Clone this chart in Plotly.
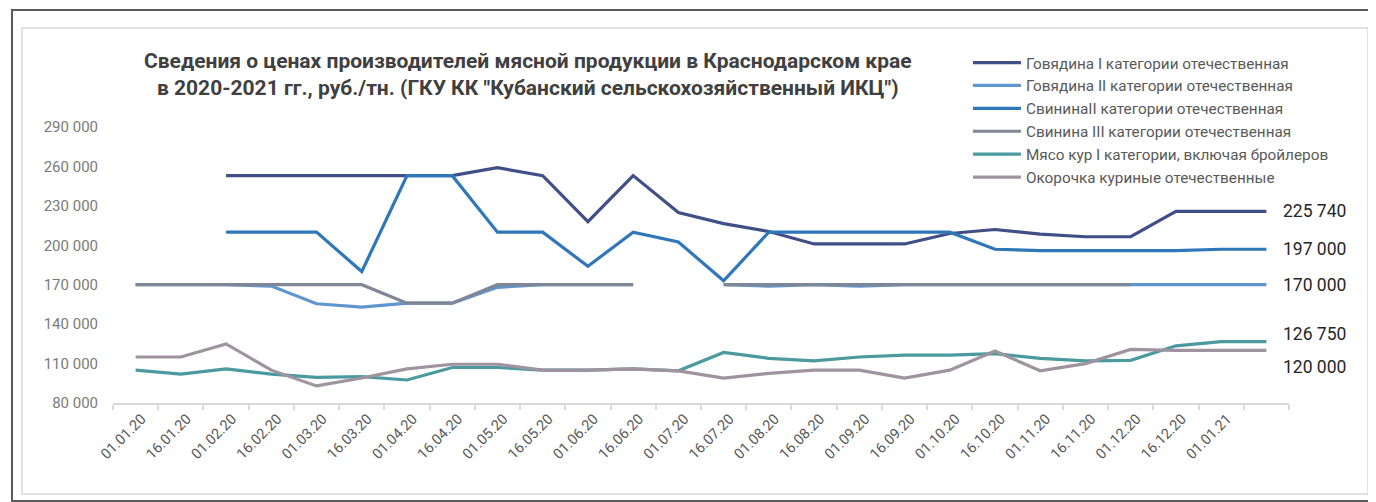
import plotly.graph_objects as go

# ---- data ----
dates = ["01.01.20", "16.01.20", "01.02.20", "16.02.20", "01.03.20", "16.03.20",
         "01.04.20", "16.04.20", "01.05.20", "16.05.20", "01.06.20", "16.06.20",
         "01.07.20", "16.07.20", "01.08.20", "16.08.20", "01.09.20", "16.09.20",
         "01.10.20", "16.10.20", "01.11.20", "16.11.20", "01.12.20", "16.12.20",
         "01.01.21", ""]

beef_1 = [None, None, 253000, 253000, 253000, 253000, 253000, 253000, 259000, 253000,
          218000, 253000, 225000, 216500, 210500, 201000, 201000, 201000, 209000, 212000,
          208500, 206500, 206500, 225740, 225740, 225740]
beef_2 = [170000, 170000, 170000, 169000, 155500, 153000, 156000, 156000, 168000, 170000,
          170000, 170000, None, 170000, 169000, 170000, 169000, 170000, 170000, 170000,
          170000, 170000, 170000, 170000, 170000, 170000]
pork_2 = [None, None, 210000, 210000, 210000, 180000, 253000, 253000, 210000, 210000,
          184000, 210000, 202500, 173000, 210000, 210000, 210000, 210000, 210000, 197000,
          196000, 196000, 196000, 196000, 197000, 197000]
pork_3 = [170000, 170000, 170000, 170000, 170000, 170000, 156000, 156000, 170000, 170000,
          170000, 170000, None, 170000, 170000, 170000, 170000, 170000, 170000, 170000,
          170000, 170000, 170000, None, None, None]
chicken = [105000, 102000, 106000, 102000, 99500, 100000, 97500, 107000, 107000, 105000,
           105000, 106000, 104500, 118500, 114000, 112000, 115000, 116500, 116500, 117500,
           114000, 112000, 112500, 123500, 126750, 126750]
legs = [115000, 115000, 125000, 105000, 93000, 99000, 106000, 109500, 109500, 105000,
        105000, 106000, 104500, 99000, 102500, 105000, 105000, 99000, 105000, 119500,
        104500, 110000, 120800, 120000, 120000, 120000]

names = ["Говядина I категории отечественная",
         "Говядина II категории отечественная",
         "СвининаII категории отечественная",
         "Свинина III категории отечественная",
         "Мясо кур I категории, включая бройлеров",
         "Окорочка куриные отечественные"]
series = [beef_1, beef_2, pork_2, pork_3, chicken, legs]
colors = ["#404f86", "#5f96cf", "#2f77b8", "#7f8796", "#4b9aa0", "#9e939e"]
label_yshift = [0, 0, 0, 0, 8, -17]

title_text = ("Сведения о ценах производителей мясной продукции в Краснодарском крае<br>"
              "в 2020-2021 гг., руб./тн. (ГКУ КК \"Кубанский сельскохозяйственный ИКЦ\")")

x_idx = list(range(len(dates)))

fig = go.Figure()
for name, vals, col in zip(names, series, colors):
    fig.add_trace(go.Scatter(x=x_idx, y=vals, name=name, mode="lines",
                             line=dict(color=col, width=3.2), connectgaps=False))

# end-of-line value labels
for vals, dy in zip(series, label_yshift):
    if vals[-1] is not None:
        fig.add_annotation(x=x_idx[-1], y=vals[-1], xref="x", yref="y",
                           text=f"{vals[-1]:,}".replace(",", " "),
                           showarrow=False, xanchor="left", yanchor="middle",
                           xshift=15, yshift=dy,
                           font=dict(family="Roboto", size=17.5, color="#262626"))

fig.add_annotation(x=0.353, y=1.19, xref="paper", yref="paper", text=title_text,
                   showarrow=False, xanchor="center", yanchor="middle", align="center",
                   font=dict(family="Roboto", size=21, color="#404040", weight="bold"))

# frames
fig.add_shape(type="rect", xref="paper", yref="paper",
              x0=-0.0774, x1=1.0672, y0=-0.3297, y1=1.3587,
              line=dict(color="#d9d9d9", width=1.5), layer="below")
fig.add_shape(type="rect", xref="paper", yref="paper",
              x0=-0.0859, x1=1.0731, y0=-0.355, y1=1.4239,
              line=dict(color="#5a5a5a", width=2), layer="below")

fig.update_layout(
    width=1368, height=494,
    margin=dict(l=105, r=87, t=119, b=99),
    paper_bgcolor="white", plot_bgcolor="white",
    separators=". ",
    showlegend=True,
    legend=dict(x=0.727, y=1.293, xanchor="left", yanchor="top",
                font=dict(family="Roboto", size=15.3, color="#595959"),
                bgcolor="rgba(0,0,0,0)", itemwidth=48, tracegroupgap=0),
    xaxis=dict(range=[-0.5, len(dates) - 0.5],
               tickmode="array", tickvals=x_idx, ticktext=dates,
               tickangle=-45, ticks="", showgrid=False, zeroline=False,
               showline=True, linecolor="#d9d9d9", linewidth=1.5,
               ticklabelshift=6,
               tickfont=dict(family="Roboto", size=14.5, color="#595959"),
               minor=dict(tickmode="array",
                          tickvals=[i - 0.5 for i in range(len(dates) + 1)],
                          ticks="outside", ticklen=5, tickcolor="#d9d9d9",
                          tickwidth=1.5, showgrid=False)),
    yaxis=dict(range=[80000, 290000], tickmode="linear", tick0=80000, dtick=30000,
               tickformat=",d", showgrid=False, zeroline=False, showline=False,
               ticks="", ticklabelstandoff=14,
               tickfont=dict(family="Roboto", size=15, color="#7a7a7a")),
)

fig.write_html("out.html")
